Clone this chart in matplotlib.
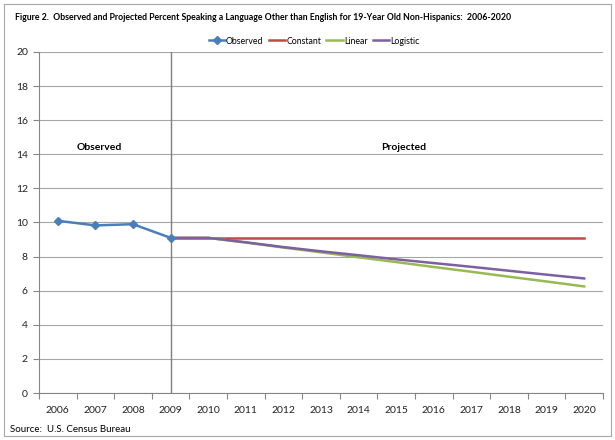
import numpy as np
import matplotlib
matplotlib.use("Agg")
import matplotlib.pyplot as plt
from matplotlib.patches import Rectangle

plt.rcParams['font.family'] = ['Lato', 'DejaVu Sans']

# data
years = list(range(2006, 2021))
obs_years = [2006, 2007, 2008, 2009]
observed = [10.1, 9.83, 9.9, 9.1]
proj_years = list(range(2009, 2021))
constant = [9.1] * 12
linear = [9.1, 9.1, 8.82, 8.53, 8.25, 7.96, 7.68, 7.39, 7.11, 6.82, 6.54, 6.25]
logistic = [9.1, 9.1, 8.84, 8.56, 8.31, 8.08, 7.84, 7.62, 7.4, 7.17, 6.94, 6.72]

title = ("Figure 2.  Observed and Projected Percent Speaking a Language Other than "
         "English for 19-Year Old Non-Hispanics:  2006-2020")

fig = plt.figure(figsize=(6.15, 4.4), dpi=100)
ax = fig.add_axes([39 / 615, 47 / 440, 564 / 615, 341 / 440])

ax.plot(obs_years, observed, color='#4A7EBB', lw=1.8, marker='D', ms=4, label='Observed', zorder=5)
ax.plot(proj_years, constant, color='#BE4B48', lw=1.8, label='Constant', zorder=3)
ax.plot(proj_years, linear, color='#98B954', lw=1.8, label='Linear', zorder=3)
ax.plot(proj_years, logistic, color='#7D60A0', lw=1.8, label='Logistic', zorder=4)

ax.axvline(2009, color='#7F7F7F', lw=1.0, zorder=2)

ax.set_xlim(2005.5, 2020.5)
ax.set_ylim(0, 20)
ax.set_yticks(np.arange(0, 21, 2))
ax.set_xticks(years)
ax.set_xticks(np.arange(2005.5, 2021, 1), minor=True)
ax.tick_params(axis='x', which='major', length=0, labelsize=7.5, pad=9, colors='#222222')
ax.tick_params(axis='x', which='minor', length=4, color='#868686', width=0.8)
ax.tick_params(axis='y', length=4, color='#868686', width=0.8, labelsize=7.5, colors='#222222', pad=4)
ax.grid(axis='y', color='#A6A6A6', lw=0.8)
ax.set_axisbelow(True)
for s in ['top', 'right']:
    ax.spines[s].set_visible(False)
for s in ['left', 'bottom']:
    ax.spines[s].set_color('#868686')
    ax.spines[s].set_linewidth(0.8)

ax.text(2007.1, 14.4, 'Observed', fontsize=7.5, fontweight='bold', ha='center', va='center')
ax.text(2015.2, 14.4, 'Projected', fontsize=7.5, fontweight='bold', ha='center', va='center')

fig.legend(loc='center', bbox_to_anchor=(314 / 615, 1 - 41 / 440), ncol=4, frameon=False,
           fontsize=6.3, handlelength=1.9, handletextpad=0.1, columnspacing=0.6)

fig.text(15 / 615, 1 - 17 / 440, title, fontsize=6.3, fontweight='bold', va='center', ha='left')
fig.text(10 / 615, 1 - 429 / 440, 'Source:  U.S. Census Bureau', fontsize=7.0, va='center', ha='left')

fig.patches.append(Rectangle((4 / 615, 4 / 440), 607 / 615, 432 / 440, transform=fig.transFigure,
                             fill=False, edgecolor='#A6A6A6', lw=0.8))

fig.savefig('out.png', dpi=100)
